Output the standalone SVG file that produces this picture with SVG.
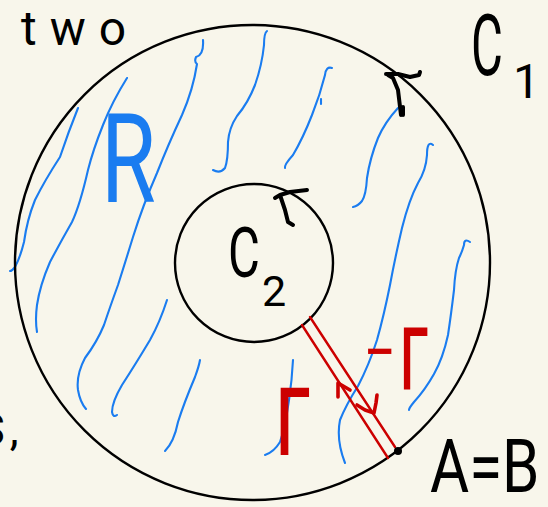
<svg xmlns="http://www.w3.org/2000/svg" width="548" height="507" viewBox="0 0 548 507">
<defs>
<style>
.bg{fill:#f8f6eb}
.circ{fill:none;stroke:#000;stroke-width:2.4}
.hatch{fill:none;stroke:#1a7cf0;stroke-width:2.1;stroke-linecap:round;stroke-linejoin:round}
.ink{fill:none;stroke:#000;stroke-width:4;stroke-linecap:round;stroke-linejoin:round}
.red{fill:none;stroke:#cc0000;stroke-width:2.4;stroke-linecap:round}
.redink{fill:none;stroke:#cc0000;stroke-width:3.6;stroke-linecap:round;stroke-linejoin:round}
.t{font-family:"Roboto","Liberation Sans",sans-serif;font-weight:400}
.tb{font-family:"Roboto","Liberation Sans",sans-serif;font-weight:500}
.blk{fill:#000}
.blu{fill:#1a7cf0}
.rd{fill:#cc0000}
</style>
</defs>
<rect class="bg" x="0" y="0" width="548" height="507"/>

<g id="region-hatching">
<path class="hatch" d="M78,108 Q68,133 60,157 Q45,180 35,200 Q27,220 24,242 Q20,258 15,267 Q12,271 10,271"/>
<path class="hatch" d="M127,78 Q112,102 103,125 Q93,150 88,170 Q80,205 72,222 Q60,243 50,262 Q40,285 37,305 Q35,320 37,332"/>
<path class="hatch" d="M203,40 Q204,55 196,57 Q194,62 197,64 Q193,90 182,115 Q168,145 157,173 Q143,205 133,237 Q125,263 118,285 Q110,307 104,325 Q97,342 85,358 Q76,375 78,390 Q80,402 86,409"/>
<path class="hatch" d="M167,300 Q160,322 150,340 Q135,365 122,385 Q112,402 112,412 Q113,418 117,415"/>
<path class="hatch" d="M267,31 Q264,33 264,45 Q262,65 255,85 Q248,103 237,116 Q229,128 228,142 Q228,160 225,168 Q220,174 213,170"/>
<path class="hatch" d="M332,68 Q326,66 325,75 Q320,95 312,115 Q303,138 293,155 Q284,165 285,168"/>
<path class="hatch" d="M321,99 L321,104"/>
<path class="hatch" d="M398,108 Q385,122 378,138 Q370,158 367,178 Q366,195 362,201 Q358,206 353,207"/>
<path class="hatch" d="M433,145 Q427,140 427,155 Q426,170 418,183 Q409,200 402,228 Q395,258 390,285 Q384,315 377,340 Q369,365 358,386 Q346,405 340,420 Q336,440 345,463"/>
<path class="hatch" d="M470,242 Q464,238 464,245 Q462,252 459,258 Q455,270 454,290 Q451,315 448,335 Q443,358 434,374 Q425,390 414,402 Q409,408 409,410"/>
<path class="hatch" d="M293,360 Q292,380 289,400 Q285,428 280,442 Q274,452 265,455"/>
<path class="hatch" d="M200,360 Q199,366 195,377 Q184,403 178,422 Q174,442 165,451"/>
</g>

<g id="node-outer-circle">
<circle class="circ" cx="252.5" cy="262.5" r="237.5"/>
<path class="ink" d="M420,72 L419,75 L410,77 L398,74 L386,74 M388,75 L393,78 L398,90 L401,115 M403,107 L403,115"/>
</g>

<g id="node-inner-circle">
<circle class="circ" cx="254" cy="263" r="79"/>
<path class="ink" d="M307,190 L290,192 L280,195 L275,198 M280,195 L285,210 L288,222 L293,225"/>
</g>

<g id="connectors">
<line class="red" x1="302" y1="325" x2="388" y2="458"/>
<line class="red" x1="310" y1="317" x2="395" y2="447"/>
<path class="redink" d="M338,397 L338,383 L350,390"/>
<path class="redink" d="M357,405 L365,410 L374,413 L376,403 L377,395"/>
<circle cx="398" cy="451" r="4" fill="#000"/>
</g>

<g id="labels">
<text class="t blk" x="21" y="45" font-size="48" textLength="105" lengthAdjust="spacing">two</text>
<g id="label-c1">
<text class="t blk" transform="translate(471,75) scale(0.57,1)" font-size="86">C</text>
<text class="t blk" x="513" y="98" font-size="48">1</text>
</g>
<text class="t blu" transform="translate(101,202) scale(0.71,1)" font-size="125">R</text>
<g id="label-c2">
<text class="t blk" transform="translate(228,277) scale(0.7,1)" font-size="70">C</text>
<text class="t blk" x="262" y="306" font-size="43">2</text>
</g>
<text class="tb rd" transform="translate(276,455) scale(0.66,1)" font-size="95">Γ</text>
<g id="label-neg-gamma">
<text class="tb rd" x="364" y="371" font-size="56">−</text>
<text class="tb rd" transform="translate(400,390) scale(0.59,1)" font-size="88">Γ</text>
</g>
<text class="t blk" transform="translate(430,492) scale(0.8,1)" font-size="75">A=B</text>
<text class="t blk" x="-22" y="445" font-size="45" letter-spacing="5">S,</text>
</g>
</svg>
